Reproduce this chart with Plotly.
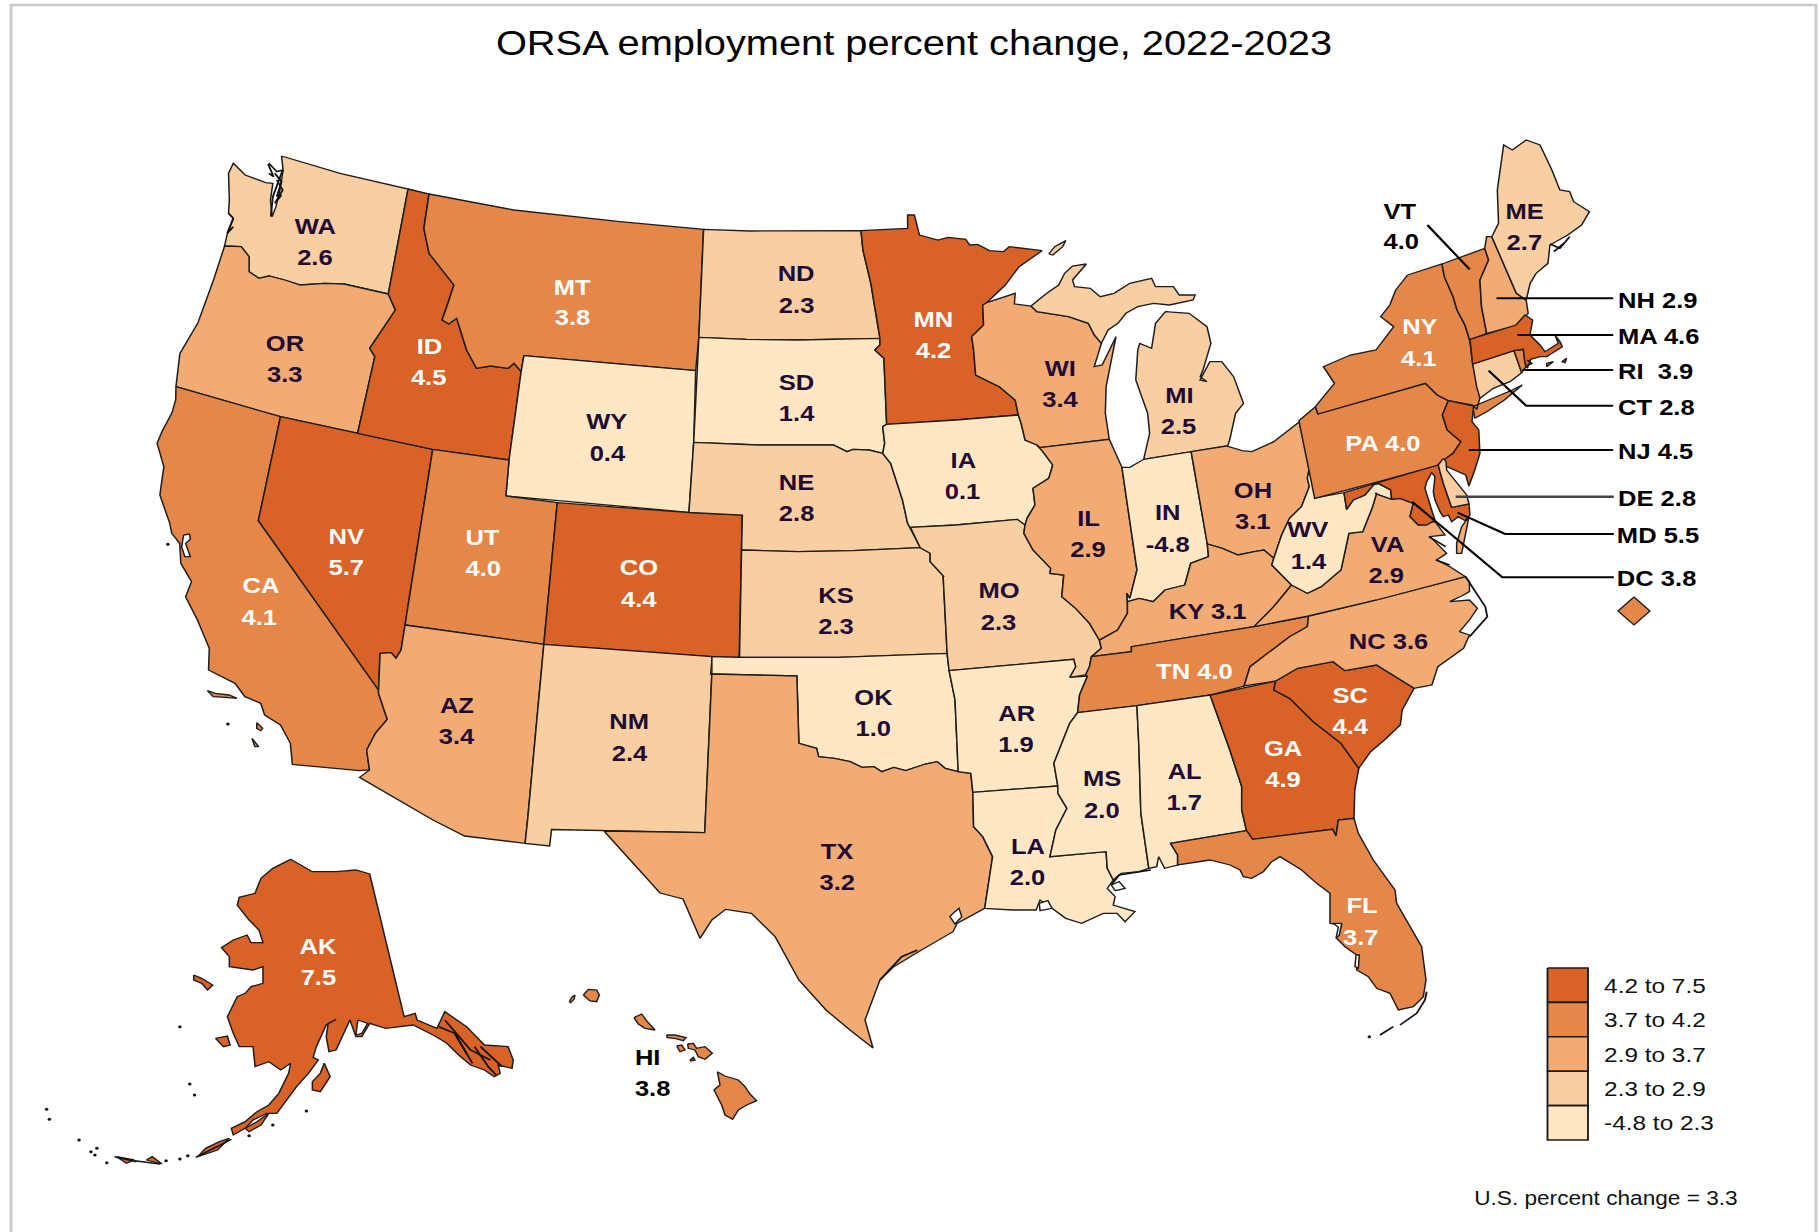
import plotly.graph_objects as go

# ---------------- data ----------------
VALUES = {"AK":7.5,"AL":1.7,"AR":1.9,"AZ":3.4,"CA":4.1,"CO":4.4,"CT":2.8,"DC":3.8,"DE":2.8,"FL":3.7,"GA":4.9,"HI":3.8,
          "IA":0.1,"ID":4.5,"IL":2.9,"IN":-4.8,"KS":2.3,"KY":3.1,"LA":2.0,"MA":4.6,"MD":5.5,"ME":2.7,"MI":2.5,"MN":4.2,
          "MO":2.3,"MS":2.0,"MT":3.8,"NC":3.6,"ND":2.3,"NE":2.8,"NH":2.9,"NJ":4.5,"NM":2.4,"NV":5.7,"NY":4.1,"OH":3.1,
          "OK":1.0,"OR":3.3,"PA":4.0,"RI":3.9,"SC":4.4,"SD":1.4,"TN":4.0,"TX":3.2,"UT":4.0,"VA":2.9,"VT":4.0,"WA":2.6,
          "WI":3.4,"WV":1.4,"WY":0.4}
CLASS_BREAKS = [4.2, 3.7, 2.9, 2.3, -4.8]
CLASS_COLORS = ["#d96227", "#e58748", "#f2ac73", "#f9cea0", "#ffe7c3"]
CLASS_LABELS = ["4.2 to 7.5", "3.7 to 4.2", "2.9 to 3.7", "2.3 to 2.9", "-4.8 to 2.3"]
TITLE = "ORSA employment percent change, 2022-2023"
NOTE = "U.S. percent change = 3.3"

W = 620 / 1568
def crop(x0, y0, s, p):
    return [(x0 + s * a, y0 + b / 3) for a, b in p]
z1 = lambda p: crop(0, 0, W, p)
z2 = lambda p: crop(600, 180, W, p)
z3 = lambda p: crop(1200, 120, W, p)
z4 = lambda p: crop(150, 400, W, p)
z5 = lambda p: crop(700, 560, W, p)
z6 = lambda p: crop(1080, 400, W, p)
z7 = lambda p: crop(0, 820, W, p)
z8 = lambda p: crop(560, 940, 1/3, p)
z9 = lambda p: crop(1440, 200, 1/3, p)
z11 = lambda p: crop(1320, 420, 1/3, p)
z12 = lambda p: crop(1230, 810, 1/3, p)

# ---------------- shared borders ----------------
WA_OR = z1([(982,882),(870,852),(820,850),(760,855),(720,840),(680,828),(655,835),(630,815),(630,770),(610,740),(568,738)])
OR_ID = z1([(948,1070),(935,1045),(960,1000),(1000,930)])
ID_MT = z1([(1085,582),(1072,685),(1085,760),(1148,855),(1130,920),(1118,960),(1135,972),(1155,955),(1180,1050),(1205,1105),(1240,1098),(1285,1105),(1300,1090),(1318,1115)])
MN_WI = z2([(978,368),(968,375),(970,435),(940,470),(945,510),(950,585),(1010,620),(1050,660),(1058,705)])
MN_W = z2([(660,152),(665,210),(685,310),(695,380),(708,475),(708,495),(695,510),(718,535),(725,733)])
SD_E = z2([(725,733),(715,740),(720,790),(715,820)])
SD_NE = z2([(715,820),(680,810),(640,808),(625,815),(590,795),(400,795),(237,787)])
NE_IA = z2([(715,820),(735,850),(750,905),(765,960),(778,1030),(785,1045)])
NE_MO = z2([(785,1045),(810,1103)])
KS_MO = z2([(810,1103),(835,1120),(835,1145),(870,1190)]) + z5([(615,50),(625,280)])
IA_MO = z2([(785,1042),(900,1035),(1055,1018),(1075,1035)])
IA_IL = z2([(1075,1035),(1080,1015),(1100,975),(1095,925),(1135,895),(1145,855),(1120,815),(1105,795)])
WI_IL = z2([(1112,803),(1288,778)])
IA_WI = z2([(1105,795),(1075,780),(1065,730),(1058,705)])
MO_IL = z2([(1075,1035),(1072,1060),(1095,1110),(1140,1165)]) + z5([(885,40),(920,45),(915,110),(950,145),(985,190),(1010,240)])
OK_RED = z5([(250,550),(295,565),(300,590),(340,595),(380,605),(410,622),(440,620),(460,635),(490,622),(520,632),(570,612),(600,605),(620,625),(653,635)])
AR_TN = z5([(990,290),(985,320),(975,345)])
AR_E = z5([(980,348),(960,405),(955,458)])
MS_R = z5([(955,458),(935,490),(915,550),(895,610),(905,678)])
LA_MS = z5([(905,678),(905,700),(928,745),(900,810),(885,890),(1027,875),(1030,925),(1045,960)])
LA_TX = z5([(690,697),(692,800),(715,830),(740,890),(730,960),(720,1045)])
IL_KY = z6([(120,605),(120,640),(95,690),(50,720)]) + z5([(1010,240)])
IN_IL = z2([(1320,862),(1345,1060),(1358,1170),(1340,1255)]) + z6([(118,580),(120,605)])
IN_KY = z6([(120,605),(150,595),(185,605),(215,570),(265,555),(280,490),(325,470),(322,432)])
OH_KY = z6([(322,432),(360,445),(400,465),(440,455),(465,450),(490,475)])
OH_WV = z6([(490,475),(500,440),(510,405),(530,355),(560,320),(580,260),(575,235),(580,205)])
KY_WV = z6([(490,475),(485,495),(535,555)])
KY_VA = z6([(535,555),(490,620),(440,680)])
WV_VA = z6([(535,555),(575,580),(610,560),(660,510),(680,400),(715,395),(740,320),(750,280)]) + z11([(165,220),(215,238)])
MD_WV = z11([(72,218),(80,268),(100,240),(135,225),(160,195),(175,190),(212,210),(215,238)])
NC_VA = z6([(975,530),(750,600),(578,648),(440,680)])
TN_NC = z6([(578,648),(575,680),(530,710),(490,745),(430,800),(415,858)])
TN_S = z6([(415,858),(330,885)]) + z5([(1105,437),(955,458)])
NC_SC = z6([(495,843),(550,805),(640,785),(670,812),(750,795),(845,865)])
GA_SC = z6([(495,843),(490,870),(530,895),(590,965),(660,1030),(705,1105)])
AL_GA = z5([(1290,405),(1340,570),(1370,680),(1370,750),(1382,812)])
GA_FL = z12([(50,62),(68,88),(308,58),(318,78),(325,30),(372,25)])
MS_AL = z5([(1105,437),(1110,560),(1115,760),(1135,925)])
NY_PA = z3([(292,860),(298,882),(570,790),(600,825),(628,842)])
PA_NJ = z3([(628,842),(613,885),(625,930),(660,965),(640,1000),(605,1030)])
VT_NY = z3([(612,432),(618,470),(640,530),(650,570),(670,615),(682,660)])
VT_NH = z3([(720,385),(730,420),(708,480),(712,560),(725,640)])
NH_ME = z3([(738,350),(800,520),(825,540)])

OUTLINES = {
 "WA": [z1([(712,468),(860,520),(1032,567)]) + WA_OR + z1([(575,700),(590,655),(578,640),(580,600),(578,520),(590,490),(620,525),(672,548),(690,550),(684,600),(688,650),(698,620),(708,570),(716,510)])],
 "OR": [WA_OR + z1([(540,840),(500,970),(455,1060),(445,1160)]) + z4([(330,50),(525,100)]) + OR_ID],
 "ID": [z1([(1032,567)]) + ID_MT + z4([(908,180),(715,148),(525,100)]) + OR_ID + z1([(982,882)])],
 "MT": [z1([(1085,582),(1300,630),(1568,665)]) + z2([(262,148),(250,472),(242,572)]) + z1([(1325,1067)]) + ID_MT[::-1]],
 "WY": [z1([(1325,1067)]) + z2([(242,572),(237,787),(225,997)]) + z4([(900,288),(908,180)]) + z1([(1318,1115)])],
 "ND": [z2([(262,148),(380,153),(660,152),(665,210),(685,310),(695,380),(708,475),(500,480),(370,478),(250,472)])],
 "SD": [z2([(250,472),(370,478),(500,480),(708,475),(708,495),(695,510),(718,535)]) + SD_E + SD_NE],
 "MN": [z2([(660,152),(778,145),(778,105),(795,105),(808,165),(855,180),(880,172),(925,178),(935,195),(955,193),(985,212),(1020,215),(1035,200),(1085,207),(1118,212),(1060,260),(1025,315)]) + MN_WI + z2([(900,720)]) + MN_W[::-1]],
 "NE": [z2([(237,787),(400,795),(590,795),(625,815),(640,808),(680,810)]) + NE_IA + NE_MO + z2([(640,1112),(500,1115),(358,1110),(360,1005),(225,997)])],
 "KS": [z2([(358,1110),(500,1115),(640,1112)]) + KS_MO + z5([(350,292),(100,292)])],
 "IA": [SD_E[:1] + z2([(900,720),(1058,705)]) + IA_WI[::-1] + IA_IL[::-1] + IA_MO[::-1] + NE_IA[::-1] + SD_E[::-1]],
 "MO": [IA_MO + MO_IL + z5([(1015,265),(990,290)]) + AR_TN + z5([(935,352),(950,320),(945,298),(630,332)]) + KS_MO[::-1] + NE_MO[::-1]],
 "WI": [z2([(978,368),(1050,340),(1048,372),(1090,378),(1105,395),(1185,410),(1235,430),(1250,465),(1268,490),(1250,560),(1270,555),(1305,470),(1280,620),(1278,700),(1288,778)]) + z2([(1112,803)]) + IA_WI + MN_WI[::-1]],
 "IL": [WI_IL + z2([(1320,862)]) + IN_IL + IL_KY + MO_IL[::-1] + IA_IL],
 "MI": [z2([(1090,378),(1130,340),(1160,315),(1175,280),(1195,258),(1230,252),(1195,300),(1200,320),(1240,325),(1265,350),(1300,340),(1340,310),(1395,295),(1405,320),(1450,320),(1465,345),(1505,345),(1500,360),(1440,375),(1400,370),(1360,380),(1330,400),(1310,430),(1285,450),(1268,490),(1250,465),(1235,430),(1185,410),(1105,395)]),
        z2([(1375,838),(1495,815)]) + z6([(370,138)]) + z3([(70,978),(75,960),(90,880),(110,850),(85,770),(55,725),(25,725),(0,780)]) + z2([(1535,605),(1518,590),(1525,570),(1545,490),(1535,440),(1490,400),(1430,395),(1405,430),(1395,505),(1365,490),(1360,510),(1355,600),(1385,700),(1390,760)]),
        z2([(1135,222),(1150,200),(1178,182),(1170,200),(1145,225)])],
 "IN": [z2([(1320,862),(1340,862),(1375,838),(1495,815)]) + z6([(322,432)]) + IN_KY[::-1] + IN_IL[::-1]],
 "OH": [z2([(1495,815)]) + z6([(370,138),(410,152),(435,155),(490,125),(555,65)]) + OH_WV[::-1] + OH_KY[::-1]],
 "KY": [IL_KY[::-1] + IN_KY + OH_KY + KY_WV + KY_VA + z6([(130,740),(130,755)]) + z5([(990,290),(1015,265)])],
 "TN": [AR_E + TN_S[::-1] + TN_NC[::-1] + z6([(440,680),(130,740),(130,755)]) + AR_TN],
 "AR": [z5([(630,332),(945,298),(950,320),(935,352)]) + AR_E + MS_R + z5([(690,697),(685,640)]) + z5([(653,635),(645,420)])],
 "LA": [z5([(690,697)]) + LA_MS + z5([(1030,985),(1050,1010),(1045,1035),(1100,1055),(1075,1085),(1055,1060),(1020,1060),(965,1090),(925,1075),(885,1040),(860,1020),(850,1050),(790,1050)]) + LA_TX[::-1]],
 "MS": [MS_R + LA_MS[1:] + z5([(1065,940),(1110,935)]) + MS_AL[::-1]],
 "AL": [MS_AL + z5([(1155,920),(1160,890),(1175,925),(1208,915),(1208,885),(1190,850)]) + AL_GA[::-1]],
 "OK": [z5([(30,290),(100,292),(350,292),(625,280),(630,332),(645,420),(653,635)]) + OK_RED[::-1] + z5([(245,348),(30,342)])],
 "TX": [z5([(30,342),(245,348)]) + OK_RED + z5([(685,640),(690,697)]) + LA_TX + z5([(650,1090),(640,1115),(560,1170),(490,1220),(455,1260)]) + [(872,1000),(865,1020),(873,1048),(850,1030),(826,1010)] + z5([(250,1260),(190,1130),(130,1060),(65,1048),(30,1080),(0,1135)]) + [(683,899),(660,893),(632,862),(604,831)] + z5([(12,818)])],
 "NM": [z4([(996,733),(1422,770),(1418,823)]) + z5([(30,342),(12,818)]) + [(604,831),(551.6,829.5),(549.6,846)] + z7([(1328,70)]) + z4([(955,1260)])],
 "CO": [z4([(1030,308),(1365,338),(1498,345),(1490,772),(1420,770),(996,733)])],
 "UT": [z4([(715,148),(908,180),(900,288),(1030,308),(996,733),(645,675)])],
 "NV": [z4([(330,50),(525,100),(715,148),(645,675),(635,750),(622,775),(610,758),(582,760),(578,870),(274,362)])],
 "AZ": [z4([(645,675),(996,733),(955,1260)]) + z7([(1328,70),(1175,48),(1095,0)]) + z4([(530,1132),(555,1110),(548,1050),(570,1000),(600,958),(578,880),(578,870),(582,760),(610,758),(622,775),(635,750)])],
 "CA": [z1([(445,1160)]) + z4([(65,0),(55,40),(30,95),(18,130),(35,200),(25,285),(50,370),(55,400),(75,430),(78,490),(105,545),(90,590),(120,660),(150,745),(148,810),(215,850),(240,890),(280,910),(290,945),(330,975),(355,1030),(360,1093),(530,1112),(555,1110),(548,1050),(570,1000),(600,958),(578,880),(578,870),(274,362),(330,50)]),
        z4([(145,872),(165,880),(200,885),(220,895),(190,892),(160,890)]), z4([(270,968),(285,985),(280,992),(270,985)]), z4([(258,1015),(275,1040),(265,1040)])],
 "NY": [z3([(525,465)]) + VT_NY + z3([(690,735),(710,825),(700,868),(690,855)]) + NY_PA[::-1] + z3([(340,790),(312,740),(380,705),(445,690),(490,620),(457,590),(480,555),(495,510)]),
        z3([(695,895),(690,860),(730,840),(790,810),(815,795),(770,840),(725,875)])],
 "PA": [z3([(250,902)]) + NY_PA + PA_NJ + z3([(600,1037),(452,1085),(290,1135)])],
 "NJ": [PA_NJ + z3([(672,1065),(680,1098),(695,1050),(708,1000),(705,930),(688,905),(692,858)])],
 "VT": [VT_NY + z3([(725,640)]) + VT_NH[::-1][1:]],
 "NH": [z3([(720,385),(725,350),(738,350)]) + NH_ME[1:] + z3([(830,580),(805,615),(725,640)]) + VT_NH[::-1][1:]],
 "ME": [NH_ME + z3([(835,490),(850,460),(880,430),(885,375),(930,345),(965,315),(985,275),(945,245),(935,215),(910,210),(890,150),(860,75),(825,60),(790,90),(768,75),(752,210),(755,310)])],
 "MA": [z9([(90,418),(228,375),(255,345),(278,360),(270,405),(300,435),(315,455),(355,430),(345,405),(360,425),(367,440),(320,470),(300,470),(272,478),(262,505),(255,490),(250,448),(222,452),(98,492)]),
        z9([(320,490),(340,485),(320,500)]), z9([(365,485),(380,475),(375,488)])],
 "CT": [z9([(98,492),(222,452),(245,518),(210,545),(160,565),(120,595),(110,560)])],
 "RI": [z9([(222,452),(250,448),(258,500),(245,518)])],
 "DE": [z11([(370,115),(355,135),(360,155),(370,190),(395,262),(447,252),(440,225),(420,200),(400,175),(380,150),(378,125)])],
 "MD": [z11([(72,218),(355,135),(360,155),(370,190),(395,262),(447,252),(450,285),(435,302),(415,290),(395,305),(385,285),(370,290),(360,275),(345,240),(340,215),(345,170),(335,158),(320,185),(315,205),(325,240),(335,270),(345,300),(320,315),(295,315),(270,290),(280,250),(240,235)]) + MD_WV[::-1][:-1]],
 "WV": [z6([(580,205),(597,293)]) + z11([(72,218)]) + MD_WV[1:] + WV_VA[::-1] + KY_WV[::-1] + OH_WV],
 "VA": [KY_VA + NC_VA[::-1] + z11([(390,440),(350,420),(380,400),(330,350),(375,345),(345,305),(295,315),(270,290),(280,250),(240,235),(215,238)]) + WV_VA[::-1],
        z11([(447,290),(425,320),(410,370),(410,400),(425,400),(435,350)])],
 "NC": [NC_VA[:2] + z6([(578,648)]) + TN_NC + NC_SC + z6([(890,855),(905,800),(970,745),(985,705),(960,695),(985,660),(1005,625),(985,600),(935,605),(965,588),(985,575),(985,545)])],
 "SC": [NC_SC + z6([(815,930),(810,975),(770,1020),(735,1055),(705,1105)]) + GA_SC[::-1]],
 "GA": [z6([(330,885)]) + GA_SC + z6([(695,1170)]) + GA_FL[::-1] + AL_GA[::-1]],
 "FL": [z5([(1190,850),(1382,812)]) + GA_FL + z12([(385,70),(430,150),(495,240),(500,280),(575,410),(588,510),(580,560),(550,590),(505,600),(480,550),(440,535),(415,500),(380,480),(380,435),(345,410),(320,385),(335,345),(300,340),(300,250),(260,220),(215,180),(150,140),(125,155),(100,185),(65,205),(40,200),(30,180),(0,165)]) + [(1210,860),(1177.6,865)] + z5([(1208,885)])],
 "AK": [z7([(735,118),(760,135),(790,155),(850,155),(900,150),(935,162),(1022,590),(1050,580),(1055,600),(1105,625),(1125,575),(1180,620),(1225,675),(1285,680),(1298,720),(1295,745),(1260,735),(1265,760),(1250,770),(1225,750),(1190,735),(1160,705),(1130,670),(1100,648),(1055,622),(1045,615),(975,625),(935,610),(915,650),(900,650),(885,600),(870,640),(850,690),(832,695),(825,650),(830,610),(850,598),(825,615),(800,680),(792,712),(805,720),(780,760),(750,800),(725,840),(700,880),(675,880),(640,900),(620,925),(590,945),(585,925),(620,905),(650,875),(680,855),(705,820),(730,760),(735,730),(710,750),(680,725),(645,740),(640,680),(605,680),(590,640),(575,590),(600,530),(620,520),(635,500),(665,490),(665,440),(640,450),(580,440),(580,410),(560,383),(590,360),(625,345),(635,368),(665,368),(655,330),(630,300),(600,255),(605,232),(645,220),(660,175),(690,145)]),
        z7([(820,730),(835,770),(810,815),(790,810),(790,785),(810,760)]), z7([(545,655),(575,648),(582,675),(565,680)]),
        z7([(490,465),(510,475),(538,495),(525,510),(510,490),(490,480)]), z7([(500,1010),(520,985),(555,965),(580,955),(550,990),(510,1005)]),
        z7([(295,1010),(340,1020),(320,1030)]), z7([(370,1020),(385,1010),(410,1032)]), z7([(620,925),(650,905),(680,880),(660,915),(630,935)])],
 "HI": [z8([(70,165),(85,148),(110,150),(118,165),(110,185),(90,183)]), z8([(28,185),(35,172),(45,165),(42,178),(32,188)]),
        z8([(222,233),(245,222),(262,245),(285,270),(255,265),(235,252)]), z8([(320,285),(345,285),(378,293),(370,302),(345,295),(322,293)]),
        z8([(350,318),(365,315),(375,330),(360,335)]), z8([(383,312),(400,310),(410,325),(435,320),(457,340),(435,358),(415,350),(405,330),(385,325)]),
        z8([(390,360),(400,352),(405,360),(392,363)]),
        z8([(472,395),(495,408),(535,420),(555,440),(570,462),(590,482),(560,495),(535,510),(518,538),(495,525),(485,495),(462,450),(480,435)])],
}
DRAW_ORDER = ["WA","OR","CA","NV","ID","MT","WY","UT","CO","AZ","NM","ND","SD","NE","KS","OK","TX","MN","IA","MO","AR","LA",
              "WI","IL","MI","IN","OH","KY","TN","MS","AL","GA","FL","SC","NC","VA","WV","PA","NY","VT","NH","ME","CT","RI","MA","NJ","MD","DE","AK","HI"]

# small bays and lakes that show as white holes on the coast
WATER = [z4([(85,405),(100,402),(102,418),(90,430),(102,470),(88,470),(80,440)]),
         z12([(310,340),(335,340),(328,375),(318,385),(325,352)]), z12([(378,435),(388,435),(385,475),(375,470)]),
         z5([(640,1060),(655,1045),(662,1070),(645,1092),(632,1070)]), z5([(1040,975),(1060,965),(1075,985),(1050,992)]),
         z5([(858,1030),(880,1022),(890,1045),(860,1052)]), z7([(905,600),(930,610),(915,640),(900,645)])]
# coastal squiggles, drawn as thin dark lines
COAST_LINES = [
 z1([(680,490),(700,515),(715,510),(700,560),(690,590),(685,650)]), z1([(695,520),(712,545),(700,590)]), z1([(678,492),(692,530),(680,520)]), z1([(700,540),(715,570),(695,610),(712,585)]),
 z1([(578,640),(590,655),(575,700),(590,680)]),
 z6([(975,530),(1025,620),(1030,650),(985,710)]), z6([(882,410),(925,440)]), z6([(900,480),(935,495)]),
 z3([(885,372),(910,385),(935,350)]), z3([(895,395),(920,370)]), z9([(262,480),(275,490),(262,497)]),
 z7([(1125,600),(1160,650),(1190,690),(1240,720)]), z7([(1110,620),(1150,640),(1180,700)]), z7([(1200,680),(1235,740),(1255,765)]), z7([(1150,640),(1195,730)]), z7([(1215,680),(1270,740)]),
 z7([(290,1010),(345,1025)]), z7([(340,1022),(405,1032)]), z7([(495,1012),(555,975),(585,958)]),
 z12([(510,645),(560,610),(585,570),(590,545)]), z12([(450,675),(490,650)]),
 z5([(1040,975),(1060,945),(1140,930)]), z5([(455,1260),(510,1190),(550,1170)]),
]
ISLAND_DOTS = z7([(118,868),(125,898),(200,960),(230,995),(245,985),(455,620),(480,792),(492,825),(775,873),(630,947),(690,915),(420,1022),(455,1017),(475,1007),(240,1005),(270,1028)]) + z12([(418,680)]) + z4([(197,972),(45,433)])

# leader lines
LEADERS = [z3([(575,315),(682,448)]), z3([(750,535),(1045,535)]), z3([(803,645),(1045,645)]), z3([(815,750),(1045,750)]),
           z3([(730,752),(825,857),(1045,857)]), z3([(680,990),(1045,990)]), z6([(950,290),(1350,290)]),
           z6([(955,338),(1075,402),(1350,402)]), z6([(840,305),(1068,532),(1350,532)])]
DC_MARK = [(1634,597),(1650,611),(1634,625),(1618,611)]

# label anchors
TWO_LINE = {"WA":z1([(798,675),(798,770)]),"OR":z1([(722,1027),(722,1120)]),"ID":z1([(1086,1037),(1086,1130)]),"MT":z1([(1448,858),(1448,950)]),
 "ND":z2([(497,277),(497,372)]),"SD":z2([(497,603),(497,697)]),"MN":z2([(843,415),(843,508)]),"WI":z2([(1165,562),(1165,655)]),"MI":z2([(1465,643),(1465,737)]),
 "IA":z2([(920,837),(917,930)]),"NE":z2([(497,905),(497,998)]),"IL":z2([(1235,1012),(1235,1105)]),"IN":z2([(1435,995),(1435,1090)]),"WY":z4([(1157,62),(1157,157)]),
 "NV":z4([(497,407),(497,500)]),"UT":z4([(843,408),(843,503)]),"CO":z4([(1237,500),(1237,595)]),"CA":z4([(280,553),(277,648)]),"AZ":z4([(777,912),(775,1007)]),
 "NM":z4([(1212,962),(1212,1057)]),"KS":z5([(345,102),(345,195)]),"MO":z5([(755,88),(755,183)]),"OK":z5([(440,408),(440,503)]),"AR":z5([(800,458),(800,550)]),
 "TX":z5([(347,870),(347,963)]),"LA":z5([(830,857),(830,950)]),"MS":z5([(1018,653),(1018,747)]),"AL":z5([(1225,632),(1225,725)]),"GA":z5([(1475,562),(1475,655)]),
 "OH":z6([(438,267),(438,360)]),"WV":z6([(577,385),(577,480)]),"VA":z6([(777,430),(775,522)]),"SC":z6([(685,882),(685,977)]),"NY":z3([(557,615),(555,712)]),
 "ME":z3([(822,272),(822,365)]),"FL":[(1362,904),(1361,936)],"AK":z7([(805,377),(805,468)]),"VT":z3([(508,270),(510,362)])}
ONE_LINE = {"KY":z5([(1285,152)])[0],"TN":z5([(1250,332)])[0],"NC":z6([(780,720)])[0],"PA":z6([(765,128)])[0]}
SIDE = {"NH":z3([(1050,538)])[0],"MA":z3([(1050,645)])[0],"RI":z3([(1050,752)])[0],"CT":z3([(1050,860)])[0],"NJ":z3([(1050,992)])[0],
        "DE":z3([(1050,1133)])[0],"MD":z6([(1353,402)])[0],"DC":z6([(1353,532)])[0]}
HI_LABEL = z8([(217,350),(217,443)])

# ---------------- helpers ----------------
def color_of(v):
    for brk, col in zip(CLASS_BREAKS, CLASS_COLORS):
        if v >= brk:
            return col
    return CLASS_COLORS[-1]

def unroll(rings):
    xs, ys = [], []
    for r in rings:
        xs += [p[0] for p in r] + [r[0][0], None]
        ys += [p[1] for p in r] + [r[0][1], None]
    return xs, ys

INK = "#1d1d1d"
DARK_TEXT = "#210a35"
FONT = "Liberation Sans, Arial, sans-serif"
fig = go.Figure()

for st in DRAW_ORDER:
    xs, ys = unroll(OUTLINES[st])
    fig.add_trace(go.Scatter(x=xs, y=ys, mode="lines", fill="toself", fillcolor=color_of(VALUES[st]),
                             line=dict(color=INK, width=1.3), name=st, hoverinfo="name", showlegend=False))
xs, ys = unroll(WATER)
fig.add_trace(go.Scatter(x=xs, y=ys, mode="lines", fill="toself", fillcolor="white",
                         line=dict(color=INK, width=1.3), hoverinfo="skip", showlegend=False))
for ln in COAST_LINES:
    fig.add_trace(go.Scatter(x=[p[0] for p in ln], y=[p[1] for p in ln], mode="lines",
                             line=dict(color="#111", width=1.6), hoverinfo="skip", showlegend=False))
fig.add_trace(go.Scatter(x=[p[0] for p in ISLAND_DOTS], y=[p[1] for p in ISLAND_DOTS], mode="markers",
                         marker=dict(color="#111", size=3), hoverinfo="skip", showlegend=False))
# DC marker
xs, ys = unroll([DC_MARK])
fig.add_trace(go.Scatter(x=xs, y=ys, mode="lines", fill="toself", fillcolor=color_of(VALUES["DC"]),
                         line=dict(color=INK, width=1.2), name="DC", hoverinfo="name", showlegend=False))
# leaders
for i, ln in enumerate(LEADERS):
    fig.add_trace(go.Scatter(x=[p[0] for p in ln], y=[p[1] for p in ln], mode="lines",
                             line=dict(color="#444" if i == 6 else "#000", width=2.5 if i == 6 else 2), hoverinfo="skip", showlegend=False))
# legend
LEG_X0, LEG_X1, LEG_Y0, LEG_ROW = 1547.5, 1588, 968, 34.4
for i, (col, lab) in enumerate(zip(CLASS_COLORS, CLASS_LABELS)):
    y0, y1 = LEG_Y0 + i * LEG_ROW, LEG_Y0 + (i + 1) * LEG_ROW
    fig.add_trace(go.Scatter(x=[LEG_X0, LEG_X1, LEG_X1, LEG_X0, LEG_X0], y=[y0, y0, y1, y1, y0], mode="lines", fill="toself",
                             fillcolor=col, line=dict(color="#1a1a1a", width=1.6), hoverinfo="skip", showlegend=False))
    fig.add_annotation(x=1601.7, y=(y0 + y1) / 2, text=lab, showarrow=False, xanchor="left", yanchor="middle",
                       font=dict(family=FONT, size=21, color="#111"))

def label(x, y, txt, color, anchor="center"):
    fig.add_annotation(x=x, y=y + 1, text=f"<b>{txt}</b>", showarrow=False, xanchor=anchor, yanchor="middle",
                       font=dict(family=FONT, size=22, color=color))

def ink_for(st):
    return "#ffffff" if VALUES[st] >= 3.7 else DARK_TEXT

for st, (a, b) in TWO_LINE.items():
    col = "#000000" if st == "VT" else ink_for(st)
    label(a[0], a[1], st, col)
    label(b[0], b[1], f"{VALUES[st]:.1f}", col)
for st, p in ONE_LINE.items():
    label(p[0], p[1], f"{st} {VALUES[st]:.1f}", ink_for(st))
for st, p in SIDE.items():
    gap = "&nbsp;&nbsp;" if st == "RI" else " "
    label(p[0], p[1], f"{st}{gap}{VALUES[st]:.1f}", "#000000", "left")
label(HI_LABEL[0][0], HI_LABEL[0][1], "HI", "#000000", "left")
label(HI_LABEL[1][0], HI_LABEL[1][1], f"{VALUES['HI']:.1f}", "#000000", "left")

fig.add_annotation(x=1472, y=1198, text=NOTE, showarrow=False, xanchor="left", yanchor="middle",
                   font=dict(family=FONT, size=19.5, color="#111"))

# the reference is horizontally stretched: the page stretches the plot by the same factor
STRETCH = 1820 / 1568
fig.update_layout(
    width=1568, height=1232, margin=dict(l=0, r=0, t=0, b=0), paper_bgcolor="white", plot_bgcolor="white", showlegend=False,
    title=dict(text=TITLE, x=914/1820, y=1-43/1232, xanchor="center", yanchor="middle", font=dict(family=FONT, size=34.3, color="#000")),
    xaxis=dict(range=[0, 1820], visible=False, fixedrange=True),
    yaxis=dict(range=[1232, 0], visible=False, fixedrange=True),
    shapes=[dict(type="rect", xref="x", yref="y", x0=11, x1=1816, y0=5, y1=1300, line=dict(color="#c9c9c9", width=2.5), layer="below")],
)
post = ("var gd=document.getElementById('{plot_id}');document.documentElement.style.overflow='hidden';"
        "document.body.style.margin='0';gd.style.transformOrigin='0 0';gd.style.transform='scaleX(%.5f)';" % STRETCH)
fig.write_html("out.html", post_script=post, config={"displayModeBar": False})
